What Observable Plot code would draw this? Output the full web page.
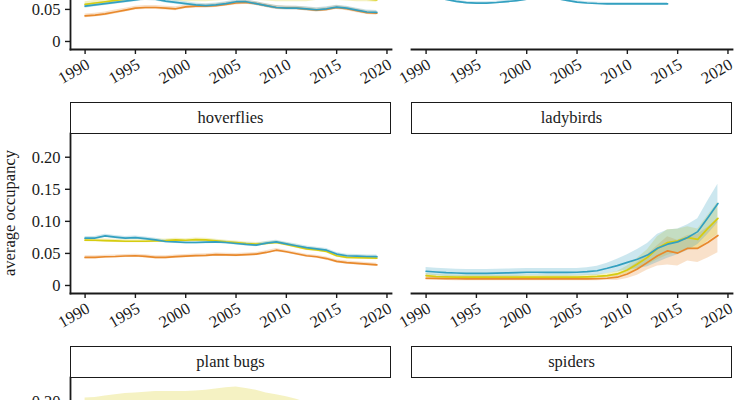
<!DOCTYPE html>
<html><head><meta charset="utf-8">
<script src="https://cdn.jsdelivr.net/npm/d3@7"></script>
<script src="https://cdn.jsdelivr.net/npm/@observablehq/plot@0.6"></script>
<style>
html,body{margin:0;padding:0;background:#fff;}
#fig{position:relative;width:735px;height:400px;overflow:hidden;font-family:"Liberation Serif","Times New Roman",Tinos,Times,serif;color:#1a1a1a;}
.strip{position:absolute;box-sizing:border-box;border:1.6px solid #1a1a1a;background:#fff;display:flex;align-items:center;justify-content:center;font-size:16.5px;line-height:1;}
#ylab{position:absolute;left:10px;top:213px;transform:translate(-50%,-50%) rotate(-90deg);white-space:nowrap;font-size:16.5px;}
</style>
</head><body>
<div id="fig"><div id="ylab">average occupancy</div></div>
<script>
const years = [1990,1991,1992,1993,1994,1995,1996,1997,1998,1999,2000,2001,2002,2003,2004,2005,2006,2007,2008,2009,2010,2011,2012,2013,2014,2015,2016,2017,2018,2019];
const seriesNames = ["orange group","yellow group","teal group"];
const seriesColors = ["#e8892c","#d6cc10","#33a0c0"];
const yTicks = [0, 0.05, 0.10, 0.15, 0.20];
const xTicks = [1990, 1995, 2000, 2005, 2010, 2015, 2020];

// top-left panel (partly out of view)
const topLeftOrange = [0.040,0.041,0.043,0.046,0.049,0.052,0.053,0.053,0.052,0.051,0.054,0.055,0.055,0.056,0.058,0.060,0.061,0.059,0.056,0.053,0.0525,0.052,0.0505,0.049,0.050,0.053,0.051,0.048,0.045,0.044];
const topLeftYellow = [0.058,0.060,0.062,0.064,0.066,0.068,0.069,0.069,0.068,0.067,0.066,0.066,0.066,0.067,0.068,0.069,0.069,0.068,0.067,0.066,0.066,0.066,0.066,0.068,0.069,0.068,0.067,0.066,0.066,0.065];
const topLeftTeal = [0.055,0.057,0.059,0.061,0.063,0.065,0.067,0.066,0.063,0.061,0.059,0.057,0.056,0.057,0.059,0.062,0.062,0.059,0.056,0.053,0.052,0.052,0.051,0.0495,0.051,0.0535,0.052,0.049,0.046,0.0455];
const topLeftHalf = [0.003,0.004,0.003];

// top-right panel (partly out of view, ends 2014)
const topRightTeal = [0.072,0.069,0.0655,0.0625,0.0605,0.0598,0.0598,0.0608,0.0622,0.0635,0.066,0.068,0.0685,0.067,0.064,0.0615,0.060,0.0592,0.0588,0.0587,0.0587,0.0587,0.0588,0.0588,0.0588];
const topRightHalf = 0.002;

// hoverflies
const hoverOrange = [0.0438,0.0438,0.0448,0.0452,0.046,0.0464,0.0455,0.0438,0.0438,0.045,0.0459,0.0465,0.047,0.048,0.0478,0.0474,0.0482,0.049,0.0515,0.055,0.0526,0.0495,0.0464,0.0448,0.042,0.0376,0.0356,0.0345,0.0332,0.032];
const hoverYellow = [0.0706,0.0705,0.070,0.0696,0.069,0.069,0.069,0.0695,0.070,0.071,0.0705,0.0716,0.071,0.0696,0.068,0.067,0.0655,0.0644,0.0655,0.067,0.064,0.0605,0.057,0.0555,0.053,0.0464,0.0438,0.0433,0.043,0.0428];
const hoverTeal = [0.0737,0.074,0.0773,0.0755,0.074,0.0747,0.073,0.071,0.0686,0.068,0.067,0.067,0.0675,0.068,0.067,0.0655,0.064,0.063,0.066,0.068,0.065,0.062,0.059,0.057,0.055,0.049,0.0464,0.0458,0.0452,0.045];
const hoverHalf = [0.0025,0.0025,0.0025];

// ladybirds
const ladyOrange = [0.0113,0.011,0.0107,0.0105,0.0104,0.0103,0.0103,0.0103,0.0103,0.0103,0.0103,0.0103,0.0103,0.0103,0.0103,0.0103,0.0104,0.0105,0.0113,0.0129,0.018,0.0258,0.036,0.0464,0.054,0.0505,0.058,0.058,0.067,0.078];
const ladyOrangeHalf = [0.003,0.003,0.003,0.003,0.003,0.003,0.003,0.003,0.003,0.003,0.003,0.003,0.003,0.003,0.003,0.003,0.003,0.003,0.003,0.005,0.007,0.010,0.012,0.016,0.022,0.020,0.020,0.022,0.024,0.027];
const ladyYellow = [0.0155,0.014,0.0135,0.013,0.013,0.0129,0.0129,0.0129,0.0129,0.0129,0.013,0.013,0.013,0.013,0.013,0.013,0.0135,0.0142,0.0155,0.018,0.0242,0.0335,0.0438,0.058,0.067,0.0696,0.0747,0.072,0.089,0.1046];
const ladyYellowHalf = [0.003,0.003,0.003,0.003,0.003,0.003,0.003,0.003,0.003,0.003,0.003,0.003,0.003,0.003,0.003,0.003,0.003,0.003,0.003,0.004,0.006,0.009,0.012,0.018,0.020,0.018,0.017,0.016,0.020,0.025];
const ladyTeal = [0.0222,0.021,0.020,0.0195,0.019,0.019,0.019,0.0192,0.0196,0.020,0.0206,0.0206,0.0204,0.0204,0.0205,0.0206,0.0215,0.023,0.0268,0.031,0.036,0.041,0.0474,0.058,0.0644,0.068,0.0747,0.084,0.1057,0.1278];
const ladyTealHalf = [0.006,0.006,0.006,0.006,0.006,0.006,0.006,0.006,0.006,0.006,0.006,0.006,0.006,0.006,0.006,0.006,0.006,0.007,0.008,0.010,0.012,0.015,0.018,0.022,0.022,0.020,0.020,0.020,0.026,0.030];

// plant bugs (mostly out of view)
const plantOrange = [0.060,0.061,0.062,0.063,0.064,0.065,0.066,0.067,0.068,0.069,0.070,0.071,0.072,0.073,0.074,0.075,0.074,0.073,0.072,0.071,0.070,0.069,0.068,0.067,0.066,0.065,0.064,0.063,0.062,0.061];
const plantYellow = [0.165,0.166,0.168,0.170,0.172,0.173,0.174,0.175,0.175,0.175,0.175,0.176,0.177,0.179,0.181,0.182,0.180,0.177,0.173,0.170,0.167,0.163,0.158,0.152,0.146,0.140,0.135,0.130,0.126,0.122];
const plantTeal = [0.090,0.091,0.092,0.093,0.094,0.095,0.096,0.097,0.098,0.099,0.100,0.101,0.102,0.103,0.104,0.105,0.104,0.103,0.102,0.101,0.100,0.099,0.098,0.097,0.096,0.095,0.094,0.093,0.092,0.091];
const plantHalf = [0.006,0.040,0.008];

// spiders (out of view)
const spiderOrange = [0.030,0.030,0.031,0.031,0.032,0.032,0.033,0.033,0.034,0.034,0.035,0.035,0.036,0.036,0.037,0.037,0.038,0.038,0.039,0.039,0.040,0.040,0.041,0.041,0.042,0.042,0.043,0.043,0.044,0.044];
const spiderYellow = [0.040,0.040,0.041,0.041,0.042,0.042,0.043,0.043,0.044,0.044,0.045,0.045,0.046,0.046,0.047,0.047,0.048,0.048,0.049,0.049,0.050,0.050,0.051,0.051,0.052,0.052,0.053,0.053,0.054,0.054];
const spiderTeal = [0.050,0.050,0.051,0.051,0.052,0.052,0.053,0.053,0.054,0.054,0.055,0.055,0.056,0.056,0.057,0.057,0.058,0.058,0.059,0.059,0.060,0.060,0.061,0.061,0.062,0.062,0.063,0.063,0.064,0.064];
const spiderHalf = [0.004,0.004,0.004];

const asArr = (h, n) => Array.isArray(h) ? h : Array(n).fill(h);
function rows(seriesList) {
  const out = [];
  for (const [si, vals, half] of seriesList) {
    const hw = asArr(half, vals.length);
    vals.forEach((v, i) => out.push({series: seriesNames[si], year: years[i], value: v, lo: v - hw[i], hi: v + hw[i]}));
  }
  return out;
}

const panels = [
  {name: null, row: 0, col: 0, data: rows([[0, topLeftOrange, topLeftHalf[0]], [1, topLeftYellow, topLeftHalf[1]], [2, topLeftTeal, topLeftHalf[2]]])},
  {name: null, row: 0, col: 1, data: rows([[2, topRightTeal, topRightHalf]])},
  {name: "hoverflies", row: 1, col: 0, data: rows([[0, hoverOrange, hoverHalf[0]], [1, hoverYellow, hoverHalf[1]], [2, hoverTeal, hoverHalf[2]]])},
  {name: "ladybirds", row: 1, col: 1, data: rows([[0, ladyOrange, ladyOrangeHalf], [1, ladyYellow, ladyYellowHalf], [2, ladyTeal, ladyTealHalf]])},
  {name: "plant bugs", row: 2, col: 0, data: rows([[0, plantOrange, plantHalf[0]], [1, plantYellow, plantHalf[1]], [2, plantTeal, plantHalf[2]]])},
  {name: "spiders", row: 2, col: 1, data: rows([[0, spiderOrange, spiderHalf[0]], [1, spiderYellow, spiderHalf[1]], [2, spiderTeal, spiderHalf[2]]])}
];

// the view shows a crop of the figure: only ticks that fall inside it are drawn
const rowYTicks = [[0, 0.05], yTicks, [0.20]];
const rowHasXAxis = [true, true, false];

const fig = document.getElementById("fig");
const rowTop = [-111, 133, 377];
const colLeft = [0, 400];
const colMargin = [70, 11];
const innerW = 321, innerH = 160, stripH = 31;
const xDomain = [1988.55, 2020.45];
const yDomain = [-0.0125, 0.237];
const yFmt = d => d === 0 ? "0" : d3.format(".2f")(d);
const serif = "'Liberation Serif','Times New Roman',Tinos,Times,serif";

for (const p of panels) {
  const ml = colMargin[p.col];
  const showY = p.col === 0;
  const marks = [
    Plot.areaY(p.data, {x: "year", y1: "lo", y2: "hi", fill: "series", fillOpacity: 0.25, clip: true}),
    Plot.lineY(p.data, {x: "year", y: "value", stroke: "series", strokeWidth: 1.7, clip: true}),
    Plot.frame({anchor: "bottom", stroke: "#1a1a1a", strokeWidth: 1.8})
  ];
  if (rowHasXAxis[p.row]) {
    marks.push(Plot.axisX({ticks: xTicks, tickFormat: d => String(d), tickSize: 5, tickPadding: 3, tickRotate: -30, textAnchor: "end", lineAnchor: "top", fontSize: 16.5, stroke: "#1a1a1a", strokeWidth: 1.4, label: null, fill: "#1a1a1a"}));
  }
  if (showY) {
    marks.push(Plot.frame({anchor: "left", stroke: "#1a1a1a", strokeWidth: 1.8}));
    marks.push(Plot.axisY({ticks: rowYTicks[p.row], tickFormat: yFmt, tickSize: 5, tickPadding: 5, fontSize: 16.5, stroke: "#1a1a1a", strokeWidth: 1.4, label: null, fill: "#1a1a1a"}));
  }
  const svg = Plot.plot({
    width: ml + innerW + 3,
    height: innerH + 50,
    marginLeft: ml, marginRight: 3, marginTop: 0, marginBottom: 50,
    style: {background: "transparent", overflow: "visible", fontFamily: serif, color: "#1a1a1a"},
    x: {domain: xDomain, axis: rowHasXAxis[p.row] ? undefined : null},
    y: {domain: yDomain, axis: showY ? undefined : null},
    color: {domain: seriesNames, range: seriesColors},
    marks
  });
  svg.style.position = "absolute";
  svg.style.left = colLeft[p.col] + "px";
  svg.style.top = rowTop[p.row] + "px";
  svg.style.fontFamily = serif;
  fig.appendChild(svg);
  if (p.name) {
    const s = document.createElement("div");
    s.className = "strip";
    s.textContent = p.name;
    s.style.left = (colLeft[p.col] + ml) + "px";
    s.style.top = (rowTop[p.row] - stripH) + "px";
    s.style.width = innerW + "px";
    s.style.height = (stripH + 1) + "px";
    fig.appendChild(s);
  }
}
</script>
</body></html>
